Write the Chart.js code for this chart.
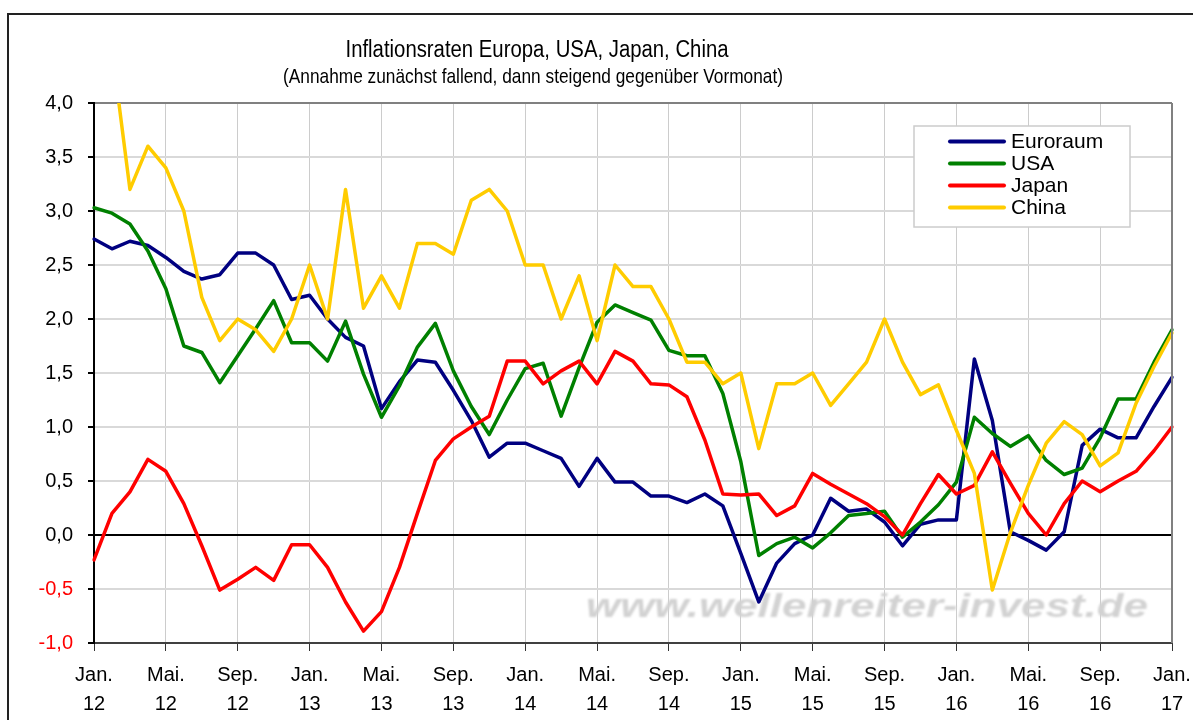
<!DOCTYPE html>
<html>
<head>
<meta charset="utf-8">
<script src="https://cdn.jsdelivr.net/npm/chart.js@4.4.1/dist/chart.umd.min.js"></script>
<style>
  html, body { margin: 0; padding: 0; background: #fff; }
  #wrap { width: 1193px; height: 720px; }
</style>
</head>
<body>
<div id="wrap"><canvas id="grafico-inflation" width="1193" height="720"></canvas></div>
<script>
// Monate Jan. 12 bis Jan. 17 (61 Werte)
var monatsNamen = ['Jan.', 'Feb.', 'Mär.', 'Apr.', 'Mai.', 'Jun.', 'Jul.', 'Aug.', 'Sep.', 'Okt.', 'Nov.', 'Dez.'];
var jahre = ['12', '13', '14', '15', '16', '17'];
var monate = [];
for (var j = 0; j < jahre.length; j++) {
    for (var m = 0; m < 12; m++) {
        if (monate.length < 61) monate.push([monatsNamen[m], jahre[j]]);
    }
}

var euroraum = [2.74, 2.65, 2.72, 2.68, 2.57, 2.44, 2.37, 2.41, 2.61, 2.61, 2.50, 2.18, 2.22, 2.00, 1.83, 1.75,
    1.17, 1.42, 1.62, 1.60, 1.34, 1.06, 0.72, 0.85, 0.85, 0.78, 0.71, 0.45, 0.71, 0.49, 0.49, 0.36,
    0.36, 0.30, 0.38, 0.27, -0.17, -0.62, -0.26, -0.08, 0.00, 0.34, 0.22, 0.24, 0.12, -0.10, 0.10, 0.14,
    0.14, 1.63, 1.06, 0.03, -0.05, -0.14, 0.03, 0.83, 0.98, 0.90, 0.90, 1.19, 1.46];

var usa = [3.03, 2.98, 2.88, 2.63, 2.28, 1.75, 1.69, 1.41, 1.66, 1.91, 2.17, 1.78, 1.78, 1.61, 1.98, 1.49,
    1.09, 1.38, 1.74, 1.96, 1.52, 1.19, 0.93, 1.25, 1.54, 1.59, 1.10, 1.55, 1.97, 2.13, 2.06, 1.99,
    1.71, 1.66, 1.66, 1.31, 0.68, -0.19, -0.08, -0.02, -0.12, 0.02, 0.18, 0.20, 0.22, -0.02, 0.12, 0.28,
    0.49, 1.09, 0.94, 0.82, 0.92, 0.69, 0.56, 0.62, 0.90, 1.26, 1.26, 1.60, 1.90];

var japan = [-0.23, 0.20, 0.40, 0.70, 0.59, 0.29, -0.10, -0.51, -0.41, -0.30, -0.42, -0.09, -0.09, -0.30, -0.62, -0.89,
    -0.71, -0.30, 0.20, 0.69, 0.89, 1.00, 1.10, 1.61, 1.61, 1.40, 1.52, 1.61, 1.40, 1.70, 1.61, 1.40,
    1.39, 1.28, 0.88, 0.38, 0.37, 0.38, 0.18, 0.27, 0.57, 0.47, 0.38, 0.29, 0.17, 0.00, 0.29, 0.56,
    0.38, 0.46, 0.77, 0.48, 0.20, 0.00, 0.29, 0.50, 0.40, 0.50, 0.59, 0.78, 1.00];

var china = [4.1, 4.5, 3.2, 3.6, 3.4, 3.0, 2.2, 1.8, 2.0, 1.9, 1.7, 2.0, 2.5, 2.0, 3.2, 2.1,
    2.4, 2.1, 2.7, 2.7, 2.6, 3.1, 3.2, 3.0, 2.5, 2.5, 2.0, 2.4, 1.8, 2.5, 2.3, 2.3,
    2.0, 1.6, 1.6, 1.4, 1.5, 0.8, 1.4, 1.4, 1.5, 1.2, 1.4, 1.6, 2.0, 1.6, 1.3, 1.39,
    0.97, 0.57, -0.51, 0.02, 0.46, 0.85, 1.05, 0.93, 0.64, 0.76, 1.22, 1.56, 1.87];

var fonte = "'Liberation Sans', Arial, sans-serif";

// Text auf bestimmte Breite stauchen/strecken
function textBreite(c, text, x, y, font, breite, align) {
    c.save();
    c.font = font;
    var w = c.measureText(text).width;
    c.translate(x, y);
    c.scale(breite / w, 1);
    c.textAlign = align;
    c.textBaseline = 'alphabetic';
    c.fillText(text, 0, 0);
    c.restore();
}

var extras = {
    id: 'extras',
    beforeDatasetsDraw: function (chart) {
        var c = chart.ctx;
        // Wasserzeichen
        c.save();
        c.filter = 'blur(1px)';
        c.fillStyle = '#d2d2d2';
        textBreite(c, 'www.wellenreiter-invest.de', 586, 617, 'italic bold 34px ' + fonte, 562, 'left');
        c.restore();
    },
    afterDraw: function (chart) {
        var c = chart.ctx;
        var a = chart.chartArea;
        c.save();
        // Rahmen aussen
        c.strokeStyle = '#222';
        c.lineWidth = 2;
        c.beginPath();
        c.moveTo(8, 720);
        c.lineTo(8, 14);
        c.lineTo(1193, 14);
        c.stroke();
        // rechter Rand Plotbereich
        c.strokeStyle = '#808080';
        c.beginPath();
        c.moveTo(a.right, a.top);
        c.lineTo(a.right, a.bottom);
        c.stroke();

        // Titel
        c.fillStyle = '#000';
        textBreite(c, 'Inflationsraten Europa, USA, Japan, China', 537, 56.5, '23px ' + fonte, 383, 'center');
        textBreite(c, '(Annahme zunächst fallend, dann steigend gegenüber Vormonat)', 533, 83, '21px ' + fonte, 500, 'center');

        // Legende
        c.fillStyle = '#fff';
        c.fillRect(914, 126, 216, 101);
        c.strokeStyle = '#cccccc';
        c.lineWidth = 1.5;
        c.strokeRect(914, 126, 216, 101);
        var basis = [148, 170, 192, 214];
        chart.data.datasets.forEach(function (ds, i) {
            c.strokeStyle = ds.borderColor;
            c.lineWidth = 4;
            c.lineCap = 'round';
            c.beginPath();
            c.moveTo(950, basis[i] - 6.5);
            c.lineTo(1004, basis[i] - 6.5);
            c.stroke();
            c.fillStyle = '#000';
            c.font = '21px ' + fonte;
            c.textAlign = 'left';
            c.textBaseline = 'alphabetic';
            c.fillText(ds.label, 1011, basis[i]);
        });
        c.restore();
    }
};

var ctx = document.getElementById('grafico-inflation').getContext('2d');
var grafico = new Chart(ctx, {
    type: 'line',
    data: {
        labels: monate,
        datasets: [
            { label: 'Euroraum', data: euroraum, borderColor: '#000080', order: 3 },
            { label: 'USA', data: usa, borderColor: '#008000', order: 2 },
            { label: 'Japan', data: japan, borderColor: '#ff0000', order: 1 },
            { label: 'China', data: china, borderColor: '#ffcc00', order: 0 }
        ]
    },
    options: {
        responsive: false,
        animation: false,
        events: [],
        layout: { padding: { top: 103, right: 21, left: 0, bottom: 0 } },
        elements: {
            point: { radius: 0 },
            line: { borderWidth: 3.5, tension: 0, borderJoinStyle: 'round', borderCapStyle: 'round', fill: false }
        },
        plugins: {
            legend: { display: false },
            title: { display: false },
            tooltip: { enabled: false }
        },
        scales: {
            x: {
                offset: false,
                afterFit: function (s) {
                    s.height = 77;
                    s.paddingLeft = 0;
                    s.paddingRight = 0;
                },
                border: { color: '#404040', width: 2 },
                grid: {
                    color: function (c) { return c.index % 4 === 0 ? '#cccccc' : 'rgba(0,0,0,0)'; },
                    tickColor: function (c) { return c.index % 4 === 0 ? '#333' : 'rgba(0,0,0,0)'; },
                    lineWidth: 1,
                    tickLength: 8
                },
                ticks: {
                    autoSkip: false,
                    maxRotation: 0,
                    padding: 10,
                    color: '#000',
                    font: { family: fonte, size: 20, lineHeight: 1.45 },
                    callback: function (v, i) { return i % 4 === 0 ? monate[i] : ''; }
                }
            },
            y: {
                min: -1,
                max: 4,
                afterFit: function (s) {
                    s.width = 94;
                    s.paddingTop = 0;
                    s.paddingBottom = 0;
                },
                border: { color: '#000', width: 2 },
                grid: {
                    color: function (c) {
                        var v = c.tick.value;
                        if (Math.abs(v) < 1e-9) return '#000';
                        if (v > 3.99) return '#808080';
                        return '#d9d9d9';
                    },
                    lineWidth: 2,
                    tickColor: '#000',
                    tickLength: 6
                },
                ticks: {
                    stepSize: 0.5,
                    padding: 15,
                    color: function (c) { return c.tick.value < 0 ? '#ff0000' : '#000'; },
                    font: { family: fonte, size: 20 },
                    callback: function (v) { return v.toFixed(1).replace('.', ','); }
                }
            }
        }
    },
    plugins: [extras]
});
</script>
</body>
</html>
